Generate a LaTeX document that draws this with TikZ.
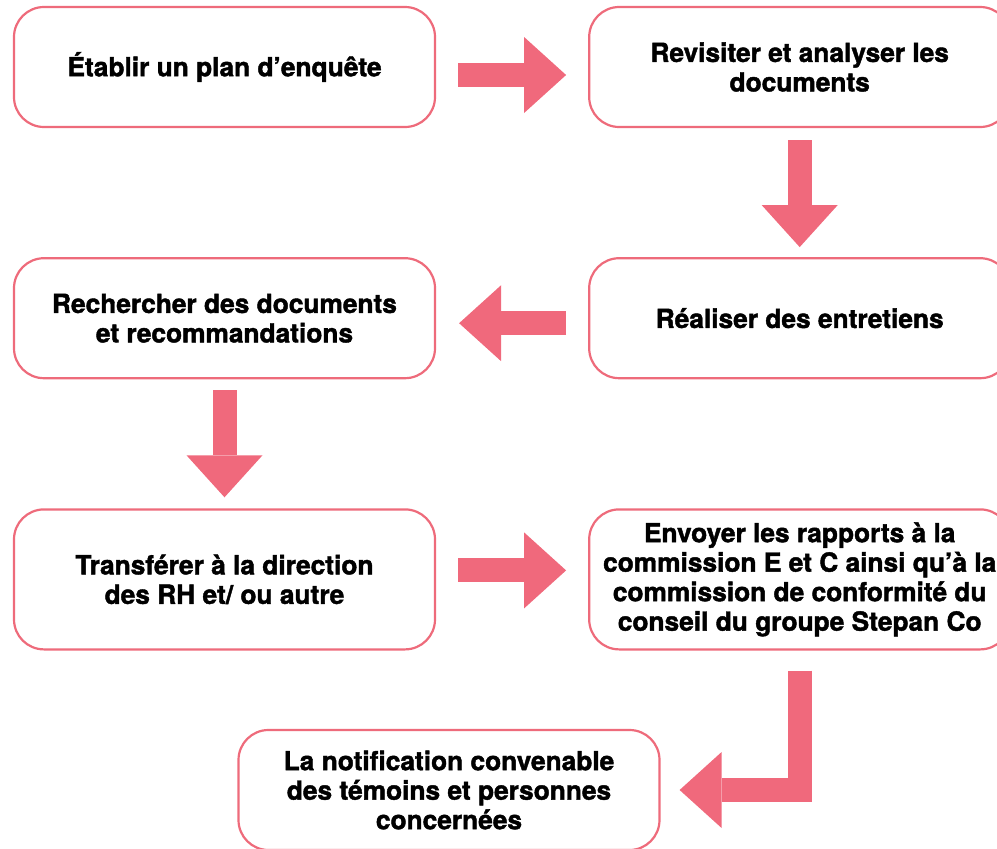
\documentclass[tikz,border=0pt]{standalone}
\usepackage{fontspec}
\setmainfont{TeX Gyre Heros}[BoldFeatures={FakeBold=1.6}]
\usepackage{tikz}
\usepackage{xcolor}
\usetikzlibrary{arrows.meta,calc,positioning}
\definecolor{rose}{HTML}{F0697C}
\definecolor{bord}{HTML}{EE6B7B}
\tikzset{%
	etape/.style    = {draw=bord, line width=2.2pt, fill=white, rectangle, rounded corners=30pt, minimum width=421pt, minimum height=120pt, align=center, font=\fontsize{26.3}{29.5}\selectfont\bfseries}, % Box
	haute/.style    = {minimum height=140pt}, % Taller box
	fleche/.style   = {draw=rose, line width=24pt, line join=miter, -{Triangle[width=76pt,length=42pt,line width=0pt]}}, % Block arrow
}

\begin{document}
\begin{tikzpicture}[x=1pt,y=-1pt,node distance=152pt]
	\useasboundingbox (0,0) rectangle (997,849);
	\node [etape] (plan) at (224.5,67) {Établir un plan d’enquête};
	\node [etape] (docs) [right=152pt of plan] {Revisiter et analyser les\\documents};
	\node [etape] (entretiens) [below=129pt of docs] {Réaliser des entretiens};
	\node [etape] (recherche) [left=152pt of entretiens] {Rechercher des documents\\et recommandations};
	\node [etape,haute] (transfert) [below=129pt of recherche] {Transférer à la direction\\des RH et/ ou autre};
	\node [etape,haute] (rapports) [right=152pt of transfert] {Envoyer les rapports à la\\commission E et C ainsi qu’à la\\commission de conformité du\\conseil du groupe Stepan Co};
	\node [etape] (notif) at (449,790) {La notification convenable\\des témoins et personnes\\concernées};
	
	\draw[fleche, shorten <=22pt, shorten >=22pt] ([yshift=-8pt]plan.east) -- ([yshift=-8pt]docs.west);
	\draw[fleche, shorten <=12pt, shorten >=10pt] (docs.south) -- (entretiens.north);
	\draw[fleche, shorten <=22pt, shorten >=23pt] ([yshift=-5pt]entretiens.west) -- ([yshift=-5pt]recherche.east);
	\draw[fleche, shorten <=11pt, shorten >=11pt] (recherche.south) -- (transfert.north);
	\draw[fleche, shorten <=22pt, shorten >=22pt] ([yshift=9pt]transfert.east) -- ([yshift=9pt]rapports.west);
	\draw[fleche, shorten <=20pt, shorten >=19pt] (rapports.south) |- (notif.east);
\end{tikzpicture}
\end{document}
